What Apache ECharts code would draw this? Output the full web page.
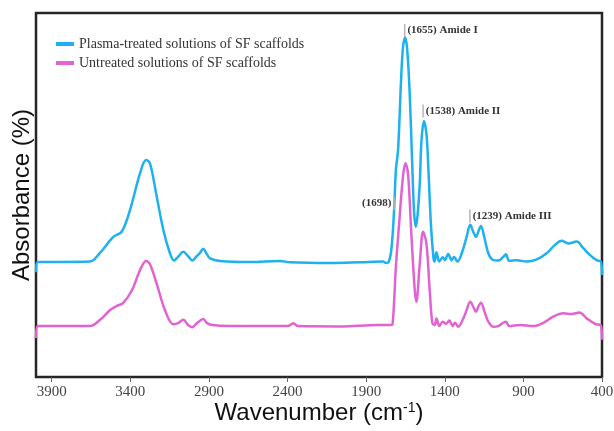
<!DOCTYPE html>
<html>
<head>
<meta charset="utf-8">
<script src="https://cdn.jsdelivr.net/npm/echarts@6/dist/echarts.min.js"></script>
<style>
  html, body { margin: 0; padding: 0; background: #fff; }
  #chart { width: 614px; height: 431px; }
</style>
</head>
<body>
<div id="chart"></div>
<script>
// x tick labels (wavenumber, cm-1)
const xTicks = [400, 900, 1400, 1900, 2400, 2900, 3400, 3900]

// plasma-treated spectrum
const treatedWn = [4000, 3990, 3847, 3657, 3593, 3508, 3455, 3402, 3338, 3300, 3275, 3232, 3190, 3148, 3122, 3097, 3063, 3033, 3006, 2978, 2957, 2936, 2914, 2893, 2830, 2639, 2448, 2384, 2130, 1939, 1793, 1774, 1758, 1740, 1723, 1711, 1697, 1678, 1666, 1653, 1640, 1624, 1608, 1596, 1585, 1573, 1559, 1548, 1532, 1516, 1504, 1488, 1472, 1465, 1453, 1435, 1413, 1399, 1378, 1356, 1341, 1320, 1292, 1261, 1238, 1219, 1201, 1187, 1170, 1149, 1123, 1091, 1060, 1028, 1011, 990, 943, 879, 815, 752, 699, 656, 614, 561, 519, 476, 434, 406, 400]
const treatedAbs = [28.8, 31.6, 31.6, 31.7, 34.1, 38.5, 39.9, 45.9, 56.0, 59.6, 58.7, 49.5, 40.4, 34.0, 32.0, 33.0, 34.4, 33.2, 32.0, 33.2, 34.1, 35.2, 33.8, 32.6, 31.9, 31.6, 31.9, 31.5, 31.3, 31.5, 31.7, 31.3, 31.5, 34.9, 45.3, 56.9, 62.4, 81.6, 90.4, 93.3, 90.4, 78.8, 59.6, 45.9, 41.3, 44.5, 53.3, 65.1, 70.3, 66.5, 56.9, 41.8, 32.7, 31.7, 34.3, 31.7, 32.9, 32.1, 33.8, 32.1, 33.0, 31.7, 34.0, 38.5, 41.8, 39.9, 38.5, 39.9, 41.5, 38.5, 34.0, 32.1, 32.0, 33.0, 33.7, 31.9, 32.1, 31.7, 32.3, 34.0, 36.3, 37.4, 36.7, 37.2, 35.4, 33.5, 32.1, 31.6, 28.0]

// untreated spectrum
const untreatedWn = [4000, 3990, 3847, 3657, 3593, 3529, 3487, 3447, 3389, 3338, 3300, 3275, 3230, 3180, 3127, 3097, 3063, 3033, 3006, 2976, 2936, 2912, 2882, 2766, 2512, 2397, 2363, 2334, 2066, 1825, 1742, 1731, 1711, 1687, 1666, 1651, 1634, 1613, 1591, 1581, 1559, 1538, 1517, 1496, 1479, 1464, 1453, 1435, 1413, 1392, 1371, 1350, 1335, 1314, 1282, 1261, 1238, 1219, 1201, 1187, 1170, 1144, 1123, 1091, 1060, 1028, 1011, 990, 921, 837, 773, 710, 646, 593, 544, 497, 444, 406, 400]
const untreatedAbs = [10.7, 14.0, 14.0, 14.0, 15.7, 18.4, 19.5, 20.3, 23.9, 29.4, 31.9, 31.0, 25.3, 18.4, 14.5, 14.8, 15.7, 14.3, 13.7, 14.8, 15.9, 14.8, 14.3, 14.0, 14.0, 14.0, 14.8, 14.0, 13.9, 14.3, 14.3, 14.8, 30.3, 44.0, 55.0, 58.7, 56.0, 39.5, 23.9, 20.7, 31.2, 39.9, 36.7, 23.9, 14.8, 14.3, 16.1, 14.0, 15.2, 14.6, 15.5, 14.0, 14.9, 13.8, 16.1, 18.4, 20.7, 19.3, 17.9, 19.3, 20.4, 17.5, 15.2, 13.8, 14.0, 14.9, 15.2, 14.0, 14.3, 14.0, 14.9, 16.6, 17.5, 17.3, 17.7, 16.1, 14.6, 14.0, 10.2]

// band annotations
const bandLabels = ['(1655) Amide I', '(1538) Amide II', '(1698)', '(1239) Amide III']
const bandWn = [1655, 1538, 1722, 1240]
const bandAbs = [95.2, 73.1, 47.7, 44.2]

const seriesNames = ['Plasma-treated solutions of SF scaffolds', 'Untreated solutions of SF scaffolds']

const zip = (xs, ys) => xs.map((x, i) => [x, ys[i]])

const chart = echarts.init(document.getElementById('chart'))

const option = {
  animation: false,
  backgroundColor: '#fff',
  grid: {
    left: 36,
    right: 12,
    top: 13,
    bottom: 54,
    outerBoundsMode: 'none',
    containLabel: false,
    show: true,
    borderColor: '#262626',
    borderWidth: 2.5,
  },
  legend: {
    orient: 'vertical',
    left: 56,
    top: 37,
    padding: 0,
    itemGap: 5,
    itemWidth: 18,
    itemHeight: 4,
    icon: 'rect',
    textStyle: {
      fontFamily: 'Liberation Serif',
      fontSize: 14,
      color: '#333',
    },
    data: seriesNames,
  },
  xAxis: {
    type: 'value',
    min: 400,
    max: 4000,
    inverse: true,
    name: 'Wavenumber (cm{sup|-1})',
    nameLocation: 'middle',
    nameMoveOverlap: false,
    nameGap: 24,
    nameTextStyle: {
      fontFamily: 'Liberation Sans',
      fontSize: 24,
      color: '#111',
      verticalAlign: 'top',
      rich: {
        sup: {
          fontFamily: 'Liberation Sans',
          fontSize: 14,
          color: '#111',
          verticalAlign: 'top',
          padding: [0, 0, 9, 0],
        },
      },
    },
    axisLine: { show: false },
    axisTick: {
      show: true,
      length: 5,
      customValues: xTicks,
      lineStyle: { color: '#666', width: 1 },
    },
    axisLabel: {
      customValues: xTicks,
      formatter: v => String(v),
      margin: 8,
      fontFamily: 'Liberation Serif',
      fontSize: 15,
      color: '#444',
    },
    splitLine: { show: false },
  },
  yAxis: {
    type: 'value',
    min: 0,
    max: 100,
    name: 'Absorbance (%)',
    nameLocation: 'middle',
    nameMoveOverlap: false,
    nameGap: 2,
    nameTextStyle: {
      fontFamily: 'Liberation Sans',
      fontSize: 24,
      color: '#111',
    },
    axisLine: { show: false },
    axisTick: { show: false },
    axisLabel: { show: false },
    splitLine: { show: false },
  },
  series: [
    {
      name: seriesNames[0],
      type: 'line',
      data: zip(treatedWn, treatedAbs),
      smooth: 0.35,
      showSymbol: false,
      lineStyle: { color: '#1db1ef', width: 2.5 },
      itemStyle: { color: '#1db1ef' },
      markPoint: {
        symbol: 'rect',
        symbolSize: [1.5, 13],
        itemStyle: { color: '#b5b5b5' },
        label: {
          show: true,
          position: 'right',
          distance: 2,
          fontFamily: 'Liberation Serif',
          fontWeight: 'bold',
          fontSize: 11,
          color: '#333',
        },
        data: bandLabels.map((t, i) => ({
          coord: [bandWn[i], bandAbs[i]],
          label: {
            formatter: t,
            position: i === 2 ? 'left' : 'right',
          },
        })),
      },
    },
    {
      name: seriesNames[1],
      type: 'line',
      data: zip(untreatedWn, untreatedAbs),
      smooth: 0.35,
      showSymbol: false,
      lineStyle: { color: '#e262d2', width: 2.5 },
      itemStyle: { color: '#e262d2' },
    },
  ],
}

chart.setOption(option)
</script>
</body>
</html>
